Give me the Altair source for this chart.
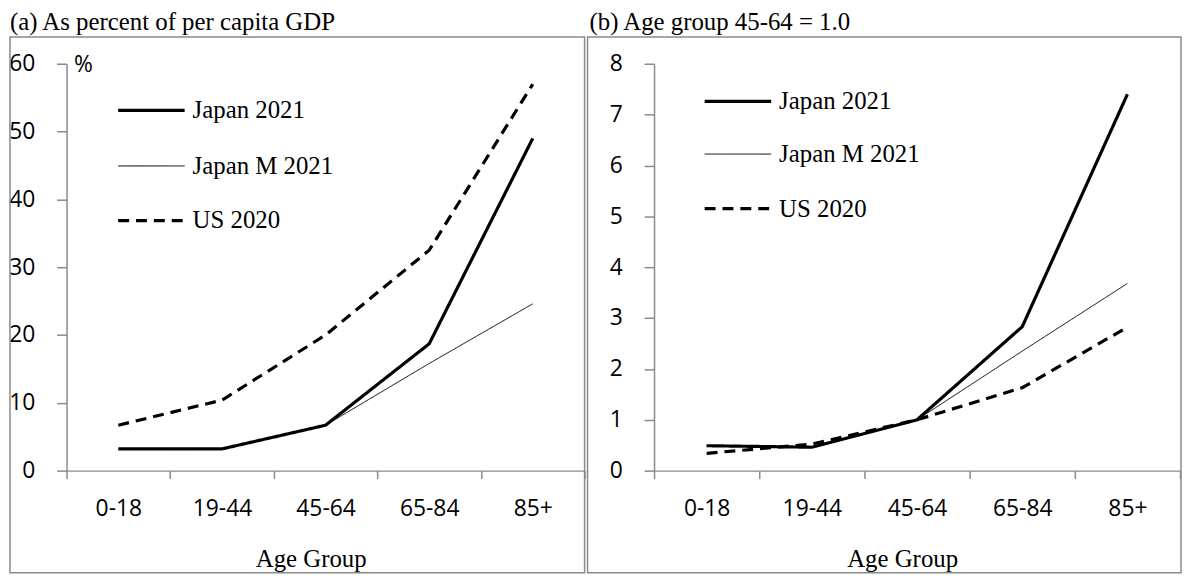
import altair as alt
import pandas as pd

# ---------------- data ----------------
ages = ["0-18", "19-44", "45-64", "65-84", "85+"]
series_names = ["Japan 2021", "Japan M 2021", "US 2020"]

# (a) As percent of per capita GDP
pct_japan_2021 = [3.2, 3.2, 6.7, 18.7, 49.0]
pct_japan_m_2021 = [3.2, 3.2, 6.7, 15.8, 24.6]
pct_us_2020 = [6.7, 10.4, 20.0, 32.5, 57.0]

# (b) Age group 45-64 = 1.0
idx_japan_2021 = [0.49, 0.46, 1.0, 2.83, 7.4]
idx_japan_m_2021 = [0.49, 0.46, 1.0, 2.35, 3.68]
idx_us_2020 = [0.34, 0.52, 1.0, 1.63, 2.82]

y_ticks_a = [0, 10, 20, 30, 40, 50, 60]
y_ticks_b = [0, 1, 2, 3, 4, 5, 6, 7, 8]

title_a = "(a) As percent of per capita GDP"
title_b = "(b) Age group 45-64 = 1.0"
x_title = "Age Group"

# ---------------- styles ----------------
SERIF = "Liberation Serif"
SANS = "Open Sans"
GRAY = "#8a8a8a"
line_widths = [3.2, 1.0, 3.2]
line_dashes = [[1, 0], [1, 0], [11, 7]]

W1, W2, H = 522, 530, 410


def long_df(cols):
    rows = []
    for name, vals in zip(series_names, cols):
        for a, v in zip(ages, vals):
            rows.append({"age": a, "value": v, "series": name})
    return pd.DataFrame(rows)


one = pd.DataFrame({"k": [0]})


def panel(df, y_ticks, y_max, width, title_text, title_x, frame_x, legend_rows,
          legend_x, y_title):
    x_enc = alt.X(
        "age:N",
        sort=ages,
        bandPosition=0.5,
        scale=alt.Scale(type="band", domain=ages, paddingInner=0, paddingOuter=0),
        axis=alt.Axis(
            tickBand="extent", labelAngle=0, labelFont=SANS, labelFontSize=23,
            labelColor="black", labelPadding=19, tickSize=8, tickColor=GRAY,
            tickWidth=1.5, domainColor=GRAY, domainWidth=1.5, grid=False,
            title=x_title, titleFont=SERIF, titleFontSize=25, titleFontWeight="normal",
            titleColor="black", titleX=width / 2 - 15, titleY=97,
            titleBaseline="alphabetic", titleAlign="center",
        ),
    )
    y_axis_kw = dict(
        values=y_ticks, format="d", labelFont=SANS, labelFontSize=23,
        labelColor="black", labelPadding=22, tickSize=10, tickColor=GRAY,
        tickWidth=1.5, domainColor=GRAY, domainWidth=1.5, grid=False,
    )
    if y_title:
        y_axis_kw.update(
            title=y_title, titleAngle=0, titleX=7, titleY=1, titleAlign="left",
            titleBaseline="middle", titleFont=SANS, titleFontSize=23,
            titleFontWeight="normal", titleColor="black",
        )
    else:
        y_axis_kw.update(title="")
    y_enc = alt.Y(
        "value:Q",
        scale=alt.Scale(domain=[0, y_max], nice=False, zero=True),
        axis=alt.Axis(**y_axis_kw),
    )

    layers = []
    # frame around panel
    layers.append(
        alt.Chart(one).mark_rect(fillOpacity=0, stroke=GRAY, strokeWidth=1.5).encode(
            x=alt.value(frame_x[0]), x2=alt.value(frame_x[1]),
            y=alt.value(-27), y2=alt.value(513),
        )
    )
    # invisible anchor for top of layout
    layers.append(
        alt.Chart(one).mark_rect(opacity=0).encode(
            x=alt.value(frame_x[0]), x2=alt.value(frame_x[0] + 2),
            y=alt.value(-54), y2=alt.value(-52),
        )
    )
    # panel title
    layers.append(
        alt.Chart(one).mark_text(
            align="left", baseline="alphabetic", font=SERIF, fontSize=25, color="black"
        ).encode(x=alt.value(title_x), y=alt.value(-34), text=alt.value(title_text))
    )
    # data lines
    for i, name in enumerate(series_names):
        layers.append(
            alt.Chart(df).transform_filter(alt.datum.series == name).mark_line(
                color="black", strokeWidth=line_widths[i], strokeDash=line_dashes[i],
                strokeJoin="miter",
            ).encode(x=x_enc, y=y_enc, order=alt.Order("age_idx:Q"))
            .transform_calculate(age_idx=f"indexof({ages}, datum.age)")
        )
    # legend
    for i, name in enumerate(series_names):
        layers.append(
            alt.Chart(one).mark_rule(
                color="black", strokeWidth=line_widths[i], strokeDash=line_dashes[i]
            ).encode(
                x=alt.value(legend_x), x2=alt.value(legend_x + 67),
                y=alt.value(legend_rows[i]),
            )
        )
        layers.append(
            alt.Chart(one).mark_text(
                align="left", baseline="middle", font=SERIF, fontSize=25, color="black"
            ).encode(
                x=alt.value(legend_x + 75), y=alt.value(legend_rows[i]),
                text=alt.value(name),
            )
        )
    return alt.layer(*layers).properties(width=width, height=H)


left = panel(
    long_df([pct_japan_2021, pct_japan_m_2021, pct_us_2020]),
    y_ticks_a, 60, W1, title_a, -57, (-57, 522), [47, 103, 158], 52, "%",
)
right = panel(
    long_df([idx_japan_2021, idx_japan_m_2021, idx_us_2020]),
    y_ticks_b, 8, W2, title_b, -65, (-67, 531), [38, 91, 146], 51, None,
)

chart = (
    alt.hconcat(left, right, spacing=70, bounds="flush")
    .properties(padding=0, background="white")
    .configure_view(stroke=None)
)

chart.save("out.html", embed_options={"renderer": "svg", "actions": False})
